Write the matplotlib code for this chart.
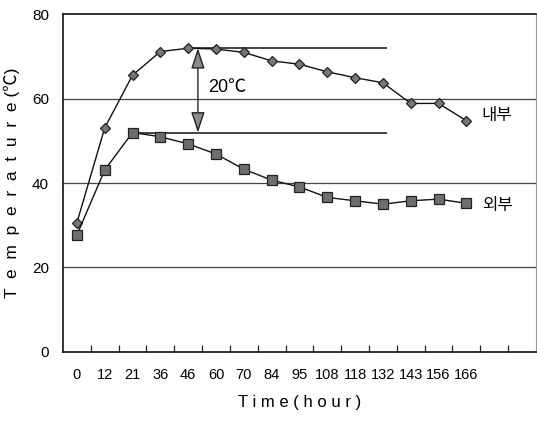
import numpy as np
import matplotlib.pyplot as plt

# elapsed time (hour) and temperatures inside / outside
hours = ['0', '12', '21', '36', '46', '60', '70', '84', '95', '108',
         '118', '132', '143', '156', '166']
inner = [30.6, 53.1, 65.6, 71.2, 72.0, 71.8, 71.0, 69.0, 68.2, 66.4,
         65.0, 63.8, 58.9, 58.9, 54.8]
outer = [27.7, 43.1, 52.0, 51.0, 49.3, 46.9, 43.3, 40.7, 39.1, 36.6,
         35.8, 35.0, 35.8, 36.2, 35.2]
yticks = [0, 20, 40, 60, 80]
n_slots = 17

fam = ['Liberation Sans Narrow', 'Liberation Sans', 'Noto Sans CJK KR']
kfam = ['Noto Sans CJK KR', 'DejaVu Sans']

fig = plt.figure(figsize=(5.37, 4.21), dpi=100)
ax = fig.add_axes([0.1173, 0.1646, 0.8807, 0.801])

x = np.arange(len(hours))
ax.set_xlim(-0.5, n_slots - 0.5)
ax.set_ylim(0, 80)

# grid lines
for v in yticks[1:-1]:
    ax.axhline(v, color='#444444', lw=0.9, zorder=1)

ax.plot(x, inner, color='#111111', lw=1.0, marker='D', ms=5,
        mfc='#777777', mec='#222222', mew=0.9, zorder=4)
ax.plot(x, outer, color='#111111', lw=1.0, marker='s', ms=6.5,
        mfc='#6e6e6e', mec='#222222', mew=0.9, zorder=4)

# peak difference reference lines
imax = int(np.argmax(inner))
omax = int(np.argmax(outer))
ax.hlines(max(inner), imax, 11.15, color='#111111', lw=1.1, zorder=3)
ax.hlines(max(outer), omax, 11.15, color='#111111', lw=1.1, zorder=3)
ax_x = 4.35
ax.annotate('', xy=(ax_x, max(inner)), xytext=(ax_x, max(outer)),
            arrowprops=dict(arrowstyle='<|-|>,head_length=0.9,head_width=0.3',
                            color='#222222', lw=1.0, mutation_scale=14,
                            fc='#8a8a8a', shrinkA=0, shrinkB=0), zorder=5)
ax.text(4.7, 62.6, '20℃', fontsize=13, family=fam, va='center', ha='left',
        bbox=dict(fc='white', ec='none', pad=1.5), zorder=3)

ax.text(14.55, inner[-1] + 1.3, '내부', fontsize=12, family=kfam, va='center')
ax.text(14.55, outer[-1] - 0.4, '외부', fontsize=12, family=kfam, va='center')

# axes styling
ax.set_xticks(x)
ax.set_xticklabels(hours, family=fam, fontsize=10.5)
ax.set_xticks(np.arange(n_slots - 1) + 0.5, minor=True)
ax.tick_params(axis='x', which='major', length=0, pad=12)
ax.tick_params(axis='x', which='minor', direction='in', length=5,
               width=0.9, color='#222222')
ax.set_yticks(yticks)
ax.set_yticklabels([str(v) for v in yticks], family=fam, fontsize=11)
ax.tick_params(axis='y', length=0, pad=10)

for s in ['left', 'bottom', 'top']:
    ax.spines[s].set_color('#111111')
    ax.spines[s].set_linewidth(1.2)
ax.spines['right'].set_color('#999999')
ax.spines['right'].set_linestyle((0, (2, 1)))
ax.spines['right'].set_linewidth(0.8)

ax.set_xlabel('T i m e ( h o u r )', family=fam, fontsize=12, labelpad=9)
ax.set_ylabel('T  e  m  p  e  r  a  t  u  r  e (℃)', family=fam,
              fontsize=12.5, labelpad=9)

fig.savefig('out.png', dpi=100)
